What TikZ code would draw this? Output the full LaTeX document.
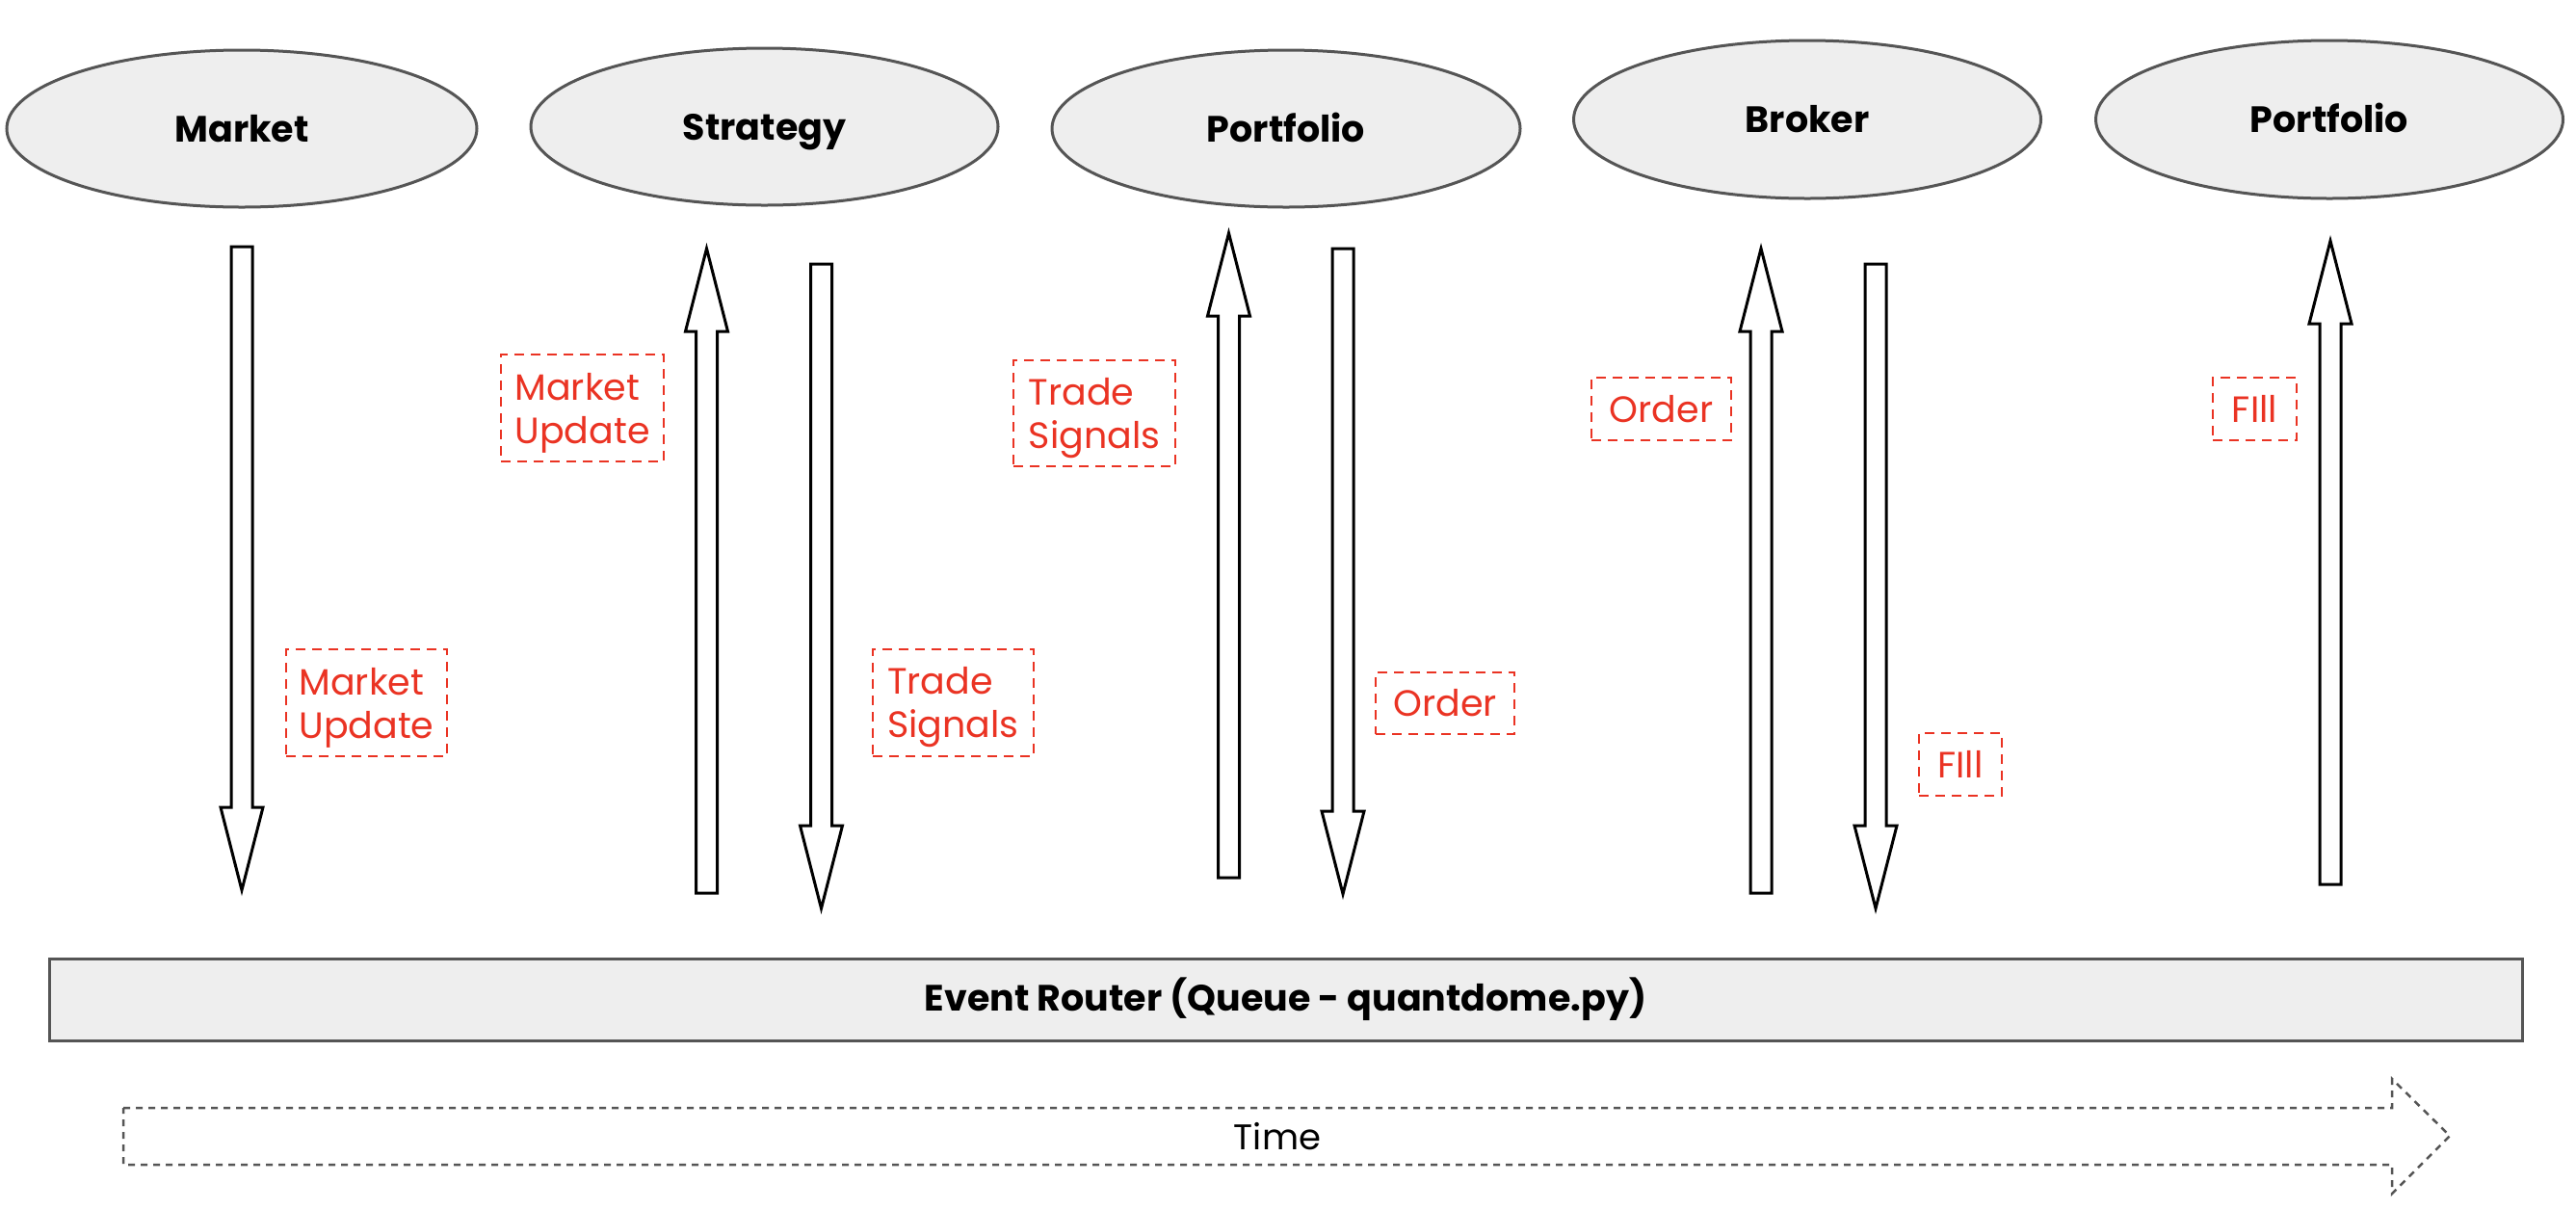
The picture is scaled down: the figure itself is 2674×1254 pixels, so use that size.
\documentclass[tikz,border=0pt]{standalone}
\usepackage{fontspec}
\setmainfont{Poppins}
\usetikzlibrary{shapes.geometric}
\definecolor{lblred}{HTML}{EA3323}
\definecolor{edgegray}{HTML}{555555}
\definecolor{fillgray}{HTML}{EEEEEE}
\tikzset{
  actor/.style={ellipse, draw=edgegray, fill=fillgray, line width=1.5pt, inner sep=0pt,
    text height=13.5pt, text depth=0pt, font=\fontsize{19}{23}\selectfont\bfseries},
  lblbox/.style={draw=lblred, dash pattern=on 5pt off 3.5pt, line width=1.4pt, inner sep=0pt},
  lbltext/.style={text=lblred, inner sep=0pt, align=left, font=\fontsize{19}{22.5}\selectfont},
  blockarrow/.style={draw=black, fill=white, line width=1.5pt, line join=miter},
  router/.style={draw=edgegray, fill=fillgray, line width=1.5pt, inner sep=0pt,
    font=\fontsize{19}{23}\selectfont\bfseries},
  timearrow/.style={draw=edgegray, line width=1.25pt, dash pattern=on 3.5pt off 3pt}
}
% up arrow: x, tip y, bottom y
\newcommand{\myUpArrow}[3]{%
  \draw[blockarrow] ({#1-11},#3) -- ({#1-11},{#2+86}) -- ({#1-22},{#2+86}) -- (#1,#2)
    -- ({#1+22},{#2+86}) -- ({#1+11},{#2+86}) -- ({#1+11},#3) -- cycle;}
% down arrow: x, top y, tip y
\newcommand{\myDownArrow}[3]{%
  \draw[blockarrow] ({#1-11},#2) -- ({#1-11},{#3-86}) -- ({#1-22},{#3-86}) -- (#1,#3)
    -- ({#1+22},{#3-86}) -- ({#1+11},{#3-86}) -- ({#1+11},#2) -- cycle;}
\begin{document}
\begin{tikzpicture}[x=0.5pt,y=-0.5pt]
\useasboundingbox (0,0) rectangle (2674,1254);
% actors
\node[actor, minimum width=244pt, minimum height=81.5pt] (market) at (251,133.5) {Market};
\node[actor, minimum width=242.5pt, minimum height=81.5pt] (strategy) at (793.5,131.5) {Strategy};
\node[actor, minimum width=243pt, minimum height=81.5pt] (portfolioA) at (1335,133.5) {Portfolio};
\node[actor, minimum width=242.5pt, minimum height=82pt] (broker) at (1876,124) {Broker};
\node[actor, minimum width=242.5pt, minimum height=82pt] (portfolioB) at (2418,124) {Portfolio};
% arrows
\myDownArrow{251}{256}{924}
\myUpArrow{733.5}{258}{927}
\myDownArrow{852.5}{274}{943}
\myUpArrow{1275.5}{242}{911}
\myDownArrow{1394}{258}{928}
\myUpArrow{1828}{258}{927}
\myDownArrow{1947}{274}{943}
\myUpArrow{2419}{250}{918}
% labels
\node[lblbox, minimum width=84.5pt, minimum height=55.5pt] (muA) at (604.5,423.5) {};
\node[lbltext, yshift=-2.5pt] (muAt) at (muA.center) {Market\\Update};
\node[lblbox, minimum width=83.5pt, minimum height=55.5pt] (muB) at (380.5,729.5) {};
\node[lbltext, yshift=-2.5pt] (muBt) at (muB.center) {Market\\Update};
\node[lblbox, minimum width=84pt, minimum height=55pt] (tsA) at (1136,429) {};
\node[lbltext, yshift=-2.5pt] (tsAt) at (tsA.center) {Trade\\Signals};
\node[lblbox, minimum width=83.5pt, minimum height=55.5pt] (tsB) at (989.5,729.5) {};
\node[lbltext, yshift=-2.5pt] (tsBt) at (tsB.center) {Trade\\Signals};
\node[lblbox, minimum width=72.5pt, minimum height=32.5pt] (orA) at (1724.5,424.5) {};
\node[lbltext] (orAt) at (orA.center) {Order};
\node[lblbox, minimum width=72pt, minimum height=32pt] (orB) at (1500,730) {};
\node[lbltext] (orBt) at (orB.center) {Order};
\node[lblbox, minimum width=43.5pt, minimum height=32.5pt] (fiA) at (2340.5,424.5) {};
\node[lbltext] (fiAt) at (fiA.center) {FIll};
\node[lblbox, minimum width=43pt, minimum height=32.5pt] (fiB) at (2035,793.5) {};
\node[lbltext] (fiBt) at (fiB.center) {FIll};
% router
\node[router, minimum width=1283.5pt, minimum height=42.5pt] (router) at (1334.5,1037.5)
  {Event Router (Queue - quantdome.py)};
% time arrow
\draw[timearrow] (128,1150) -- (2483,1150) -- (2483,1120) -- (2543,1179) -- (2483,1239)
  -- (2483,1209) -- (128,1209) -- cycle;
\node[font=\fontsize{18.5}{23}\selectfont] (time) at (1326,1180) {Time};
\end{tikzpicture}
\end{document}
